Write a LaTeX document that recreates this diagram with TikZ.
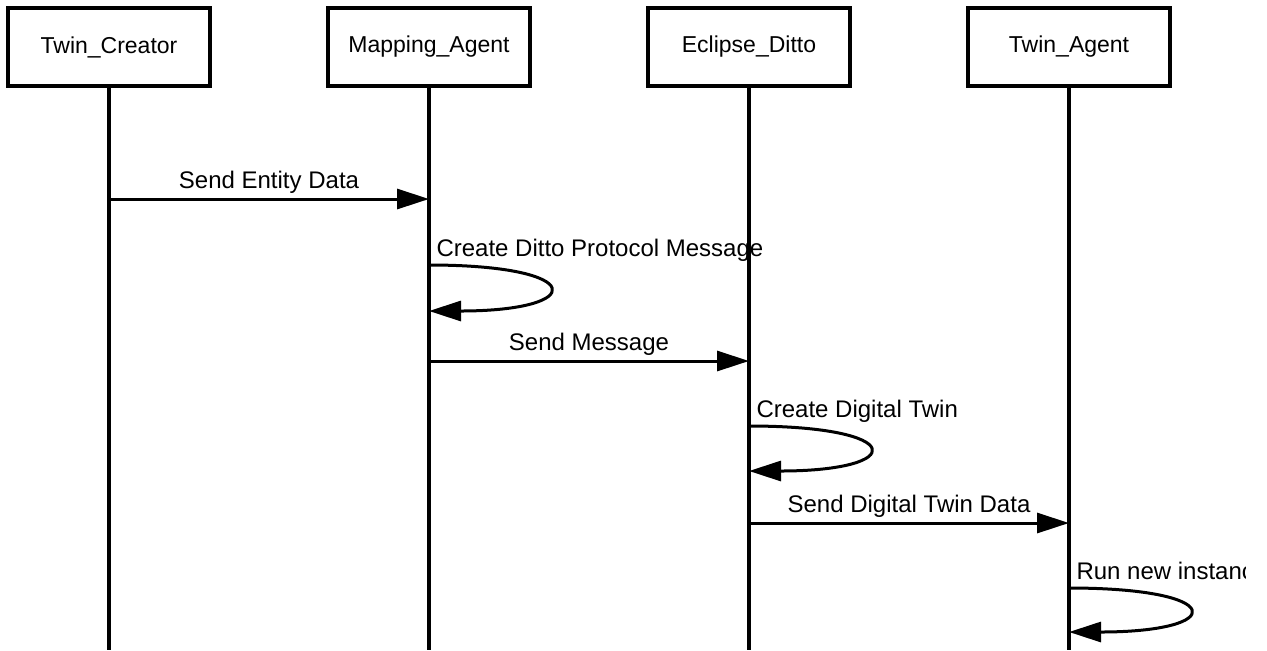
\documentclass[tikz,border=0pt]{standalone}
\usepackage{fontspec}
\setmainfont{Liberation Sans}
\usetikzlibrary{arrows.meta}
\tikzset{
    actor-box/.style = {draw=black, fill=white, line width=1.7pt, rectangle, minimum width=101pt, minimum height=39pt, font=\fontsize{11.5}{14}\selectfont},
    lifeline/.style = {line width=1.7pt},
    message/.style = {line width=1.5pt, -{Triangle[length=16pt, width=10pt]}},
    message-label/.style = {font=\fontsize{12}{14}\selectfont, inner sep=2pt, text depth=2.5pt},
    self-label/.style = {message-label, anchor=south west, inner sep=3pt, yshift=-2.2pt},
}

\begin{document}
\begin{tikzpicture}[x=0.5pt, y=-0.5pt]
\useasboundingbox (0,0) rectangle (1267,650);
\clip (0,0) rectangle (1245,650);
\node[actor-box] (creator) at (109,47) {Twin\_Creator};
\node[actor-box] (mapping) at (429,47) {Mapping\_Agent};
\node[actor-box] (ditto) at (749,47) {Eclipse\_Ditto};
\node[actor-box] (agent) at (1069,47) {Twin\_Agent};
\foreach \actor in {creator,mapping,ditto,agent}
    \draw[lifeline] (\actor.south) -- (\actor |- 0,650);

\draw[message] (creator |- 0,199) -- node[message-label, above] {Send Entity Data} (mapping |- 0,199);
\draw[message] (mapping |- 0,265) node[self-label] {Create Ditto Protocol Message}
    .. controls +(159,0) and +(159,0) .. (mapping |- 0,311);
\draw[message] (mapping |- 0,361) -- node[message-label, above] {Send Message} (ditto |- 0,361);
\draw[message] (ditto |- 0,426) node[self-label] {Create Digital Twin}
    .. controls +(159,0) and +(159,0) .. (ditto |- 0,471);
\draw[message] (ditto |- 0,523) -- node[message-label, above] {Send Digital Twin Data} (agent |- 0,523);
\draw[message] (agent |- 0,588) node[self-label] {Run new instance}
    .. controls +(159,0) and +(159,0) .. (agent |- 0,632);
\end{tikzpicture}
\end{document}
